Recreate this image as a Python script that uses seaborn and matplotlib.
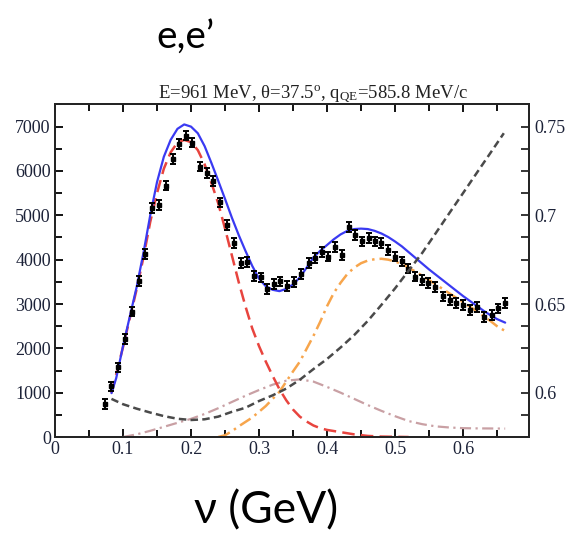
import matplotlib
matplotlib.use("Agg")
import matplotlib.pyplot as plt
import seaborn as sns
import pandas as pd
from matplotlib.ticker import MultipleLocator

# Measured inclusive (e,e') cross section, energy transfer nu in GeV
nu_data = [0.074, 0.083, 0.092, 0.103, 0.113, 0.124, 0.133, 0.142, 0.153, 0.163,
           0.173, 0.183, 0.193, 0.202, 0.213, 0.223, 0.232, 0.243, 0.253, 0.263,
           0.274, 0.282, 0.293, 0.303, 0.312, 0.322, 0.331, 0.341, 0.352, 0.362,
           0.373, 0.382, 0.392, 0.402, 0.412, 0.422, 0.433, 0.441, 0.451, 0.461,
           0.471, 0.480, 0.490, 0.500, 0.510, 0.519, 0.529, 0.539, 0.549, 0.559,
           0.570, 0.581, 0.590, 0.600, 0.610, 0.621, 0.631, 0.642, 0.652, 0.662]
xs_data = [750, 1140, 1570, 2210, 2830, 3520, 4120, 5160, 5240, 5670,
           6270, 6600, 6800, 6640, 6100, 5950, 5780, 5290, 4780, 4370,
           3930, 3940, 3640, 3600, 3330, 3450, 3510, 3410, 3500, 3680,
           3920, 4030, 4180, 4070, 4290, 4110, 4740, 4560, 4410, 4480,
           4410, 4370, 4220, 4070, 3960, 3800, 3620, 3540, 3470, 3390,
           3170, 3090, 3020, 2980, 2870, 2930, 2710, 2750, 2900, 3020]
xs_err = 110

# Total model
nu_total = [0.083, 0.09, 0.10, 0.11, 0.12, 0.13, 0.14, 0.15, 0.16, 0.17, 0.18, 0.19,
            0.20, 0.21, 0.22, 0.23, 0.24, 0.25, 0.26, 0.27, 0.28, 0.29, 0.30, 0.31,
            0.32, 0.33, 0.34, 0.35, 0.36, 0.37, 0.38, 0.39, 0.40, 0.41, 0.42, 0.43,
            0.44, 0.45, 0.46, 0.47, 0.48, 0.49, 0.50, 0.51, 0.52, 0.53, 0.54, 0.55,
            0.56, 0.57, 0.58, 0.59, 0.60, 0.61, 0.62, 0.63, 0.64, 0.65, 0.662]
total = [990, 1330, 2050, 2720, 3380, 4150, 5000, 5750, 6320, 6700, 6950, 7050,
         7000, 6850, 6560, 6180, 5780, 5370, 4950, 4560, 4200, 3860, 3570, 3400,
         3320, 3290, 3340, 3440, 3600, 3820, 4050, 4200, 4330, 4460, 4570, 4650,
         4690, 4700, 4690, 4650, 4590, 4510, 4410, 4300, 4170, 4040, 3910, 3780,
         3660, 3540, 3420, 3300, 3180, 3070, 2960, 2850, 2750, 2660, 2580]

# Quasi-elastic component
nu_qe = [0.083, 0.10, 0.12, 0.13, 0.14, 0.15, 0.16, 0.17, 0.18, 0.19, 0.20, 0.21,
         0.22, 0.23, 0.24, 0.25, 0.26, 0.27, 0.28, 0.29, 0.30, 0.31, 0.32, 0.33,
         0.34, 0.35, 0.36, 0.37, 0.38, 0.39, 0.40, 0.42, 0.44, 0.46, 0.48, 0.52]
qe = [990, 2030, 3330, 4050, 4850, 5500, 6050, 6420, 6640, 6700, 6650, 6470,
      6150, 5730, 5270, 4700, 4100, 3500, 2950, 2450, 2050, 1700, 1380, 1080,
      830, 620, 460, 350, 260, 200, 160, 110, 60, 25, 10, 0]

# Delta resonance component
nu_delta = [0.24, 0.25, 0.26, 0.27, 0.28, 0.29, 0.30, 0.31, 0.32, 0.33, 0.34, 0.35,
            0.36, 0.37, 0.38, 0.39, 0.40, 0.41, 0.42, 0.43, 0.44, 0.45, 0.46, 0.47,
            0.48, 0.49, 0.50, 0.51, 0.52, 0.53, 0.54, 0.55, 0.56, 0.57, 0.58, 0.59,
            0.60, 0.61, 0.62, 0.63, 0.64, 0.65, 0.662]
delta = [0, 40, 130, 240, 340, 440, 570, 700, 860, 1020, 1250, 1480,
         1700, 1990, 2280, 2600, 2950, 3250, 3480, 3680, 3820, 3920, 3980, 4010,
         4020, 4000, 3960, 3900, 3820, 3730, 3640, 3540, 3440, 3340, 3240, 3140,
         3040, 2940, 2840, 2730, 2620, 2500, 2390]

# Two-body (MEC) component
nu_mec = [0.10, 0.12, 0.14, 0.16, 0.18, 0.20, 0.22, 0.24, 0.26, 0.28, 0.30, 0.32,
          0.34, 0.36, 0.38, 0.40, 0.42, 0.44, 0.46, 0.48, 0.50, 0.52, 0.54, 0.56,
          0.58, 0.60, 0.62, 0.64, 0.662]
mec = [0, 60, 140, 230, 320, 410, 520, 650, 790, 930, 1060, 1180,
       1270, 1300, 1250, 1130, 1000, 860, 720, 590, 470, 360, 290, 240,
       215, 200, 195, 193, 190]

# Ratio curve read on the right-hand scale
nu_ratio = [0.083, 0.10, 0.12, 0.14, 0.16, 0.18, 0.20, 0.22, 0.24, 0.26, 0.28, 0.30,
            0.32, 0.34, 0.36, 0.38, 0.40, 0.42, 0.44, 0.46, 0.48, 0.50, 0.52, 0.54,
            0.56, 0.58, 0.60, 0.62, 0.64, 0.66]
ratio = [0.5965, 0.5935, 0.5910, 0.5888, 0.5868, 0.5853, 0.5846, 0.5850, 0.5865,
         0.5892, 0.5915, 0.5953, 0.5985, 0.6023, 0.6073, 0.6133, 0.6190, 0.6255,
         0.6325, 0.6405, 0.6495, 0.6588, 0.6688, 0.6788, 0.6900, 0.7013, 0.7125,
         0.7238, 0.7350, 0.7463]

x_left_ticks = [0, 0.1, 0.2, 0.3, 0.4, 0.5, 0.6]
y_left_ticks = [0, 1000, 2000, 3000, 4000, 5000, 6000, 7000]
y_right_ticks = [0.6, 0.65, 0.7, 0.75]

sns.set_style("ticks")
plt.rcParams["font.family"] = ["Liberation Serif", "DejaVu Serif"]
plt.rcParams["mathtext.fontset"] = "custom"
plt.rcParams["mathtext.rm"] = "Liberation Serif"
plt.rcParams["mathtext.it"] = "Liberation Serif:italic"

fig = plt.figure(figsize=(5.72, 5.34), dpi=100)
ax = fig.add_axes([0.0962, 0.1816, 0.8286, 0.6236])

lines = [
    (nu_mec, mec, "#c9a0a4", 1.6, (5, 2, 1, 2)),
    (nu_delta, delta, "#f7a54c", 1.8, (5, 2, 1, 2)),
    (nu_qe, qe, "#e8443e", 1.8, (5, 2.5)),
    (nu_total, total, "#3a3af2", 1.6, None),
]
for xv, yv, col, lw, dash in lines:
    df = pd.DataFrame({"nu": xv, "y": yv})
    sns.lineplot(data=df, x="nu", y="y", ax=ax, color=col, lw=lw,
                 estimator=None, sort=False)
    if dash is not None:
        ax.lines[-1].set_dashes(dash)

ax.errorbar(nu_data, xs_data, yerr=xs_err, fmt="s", ms=2.5, color="black",
            ecolor="black", elinewidth=1.4, capsize=2.5, capthick=1.4, zorder=5)

ax.set_xlim(0, 0.697)
ax.set_ylim(0, 7510)
ax.set_xticks(x_left_ticks)
ax.set_xticklabels(["0", "0.1", "0.2", "0.3", "0.4", "0.5", "0.6"])
ax.set_yticks(y_left_ticks)
ax.xaxis.set_minor_locator(MultipleLocator(0.05))
ax.yaxis.set_minor_locator(MultipleLocator(500))
ax.set_xlabel("")
ax.set_ylabel("")
ax.tick_params(axis="both", which="both", direction="in", top=True, right=False,
               width=1.3, colors="black", labelcolor="#1c2238", labelsize=13, pad=3)
ax.tick_params(axis="both", which="major", length=6)
ax.tick_params(axis="both", which="minor", length=5)
for s in ax.spines.values():
    s.set_linewidth(1.4)
    s.set_color("black")
    s.set_visible(True)

ax2 = ax.twinx()
df_r = pd.DataFrame({"nu": nu_ratio, "r": ratio})
sns.lineplot(data=df_r, x="nu", y="r", ax=ax2, color="#4a4a4a", lw=1.8,
             estimator=None, sort=False)
ax2.lines[-1].set_dashes((3, 1.7))
ax2.set_ylim(0.575, 0.76275)
ax2.set_yticks(y_right_ticks)
ax2.set_yticklabels(["0.6", "0.65", "0.7", "0.75"])
ax2.yaxis.set_minor_locator(MultipleLocator(0.0125))
ax2.set_ylabel("")
ax2.tick_params(axis="y", which="both", direction="in", right=True, left=False,
                width=1.3, length=6, labelcolor="#1c2238", labelsize=13, pad=4)
for s in ax2.spines.values():
    s.set_linewidth(1.4)

fig.text(0.548, 0.815,
         r"E=961 MeV, θ=37.5$^{\rm o}$, q$_{\rm QE}$=585.8 MeV/c",
         ha="center", va="baseline", fontsize=13.5, color="#222222")
fig.text(0.325, 0.91, "e,e\u2019", ha="center", va="baseline",
         family=["Lato", "DejaVu Sans"], fontsize=28, color="black")
fig.text(0.465, 0.02, "ν (GeV)", ha="center", va="baseline",
         family=["Lato", "DejaVu Sans"], fontsize=32, color="black")

fig.savefig("out.png", dpi=100)
